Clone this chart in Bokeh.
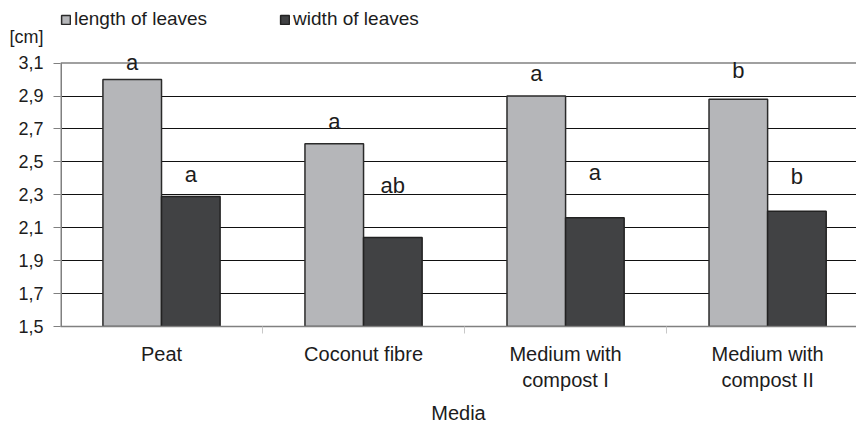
from bokeh.plotting import figure
from bokeh.models import (Range1d, FixedTicker, Span, LabelSet, Legend,
                          LegendItem, ColumnDataSource)
from bokeh.core.properties import value
from bokeh.embed import file_html
from bokeh.resources import INLINE

# ---- data ----
categories = ["Peat", "Coconut fibre", "Medium with\ncompost I", "Medium with\ncompost II"]
length_of_leaves = [3.00, 2.61, 2.90, 2.88]
width_of_leaves = [2.29, 2.04, 2.16, 2.20]
length_letters = ["a", "a", "a", "b"]
width_letters = ["a", "ab", "a", "b"]
length_letter_y = [3.058, 2.70, 2.99, 3.009]
width_letter_y = [2.375, 2.309, 2.387, 2.363]
y_ticks = [1.5, 1.7, 1.9, 2.1, 2.3, 2.5, 2.7, 2.9, 3.1]
y_tick_labels = ["1,5", "1,7", "1,9", "2,1", "2,3", "2,5", "2,7", "2,9", "3,1"]
unit_label = "[cm]"
unit_level = 3.257

FONT = "Liberation Sans"
TXT = "#1c1c1c"
LIGHT = "#b5b6b9"
DARK = "#414244"
GREY = "#808080"

centers = [i + 0.5 for i in range(len(categories))]
off = 0.145
bw = 0.29

p = figure(width=856, height=426, output_backend="svg", toolbar_location=None,
           x_range=Range1d(0, 3.94), y_range=Range1d(1.5, 3.4804),
           min_border_left=60, min_border_right=0, min_border_top=0,
           min_border_bottom=98)
p.outline_line_color = None
p.background_fill_color = "white"
p.border_fill_color = "white"

# grid
p.xgrid.grid_line_color = None
p.ygrid.ticker = FixedTicker(ticks=y_ticks[1:-1])
p.ygrid.grid_line_color = "#111111"
p.ygrid.grid_line_width = 1
p.add_layout(Span(location=y_ticks[-1], dimension="width", line_color=GREY, line_width=1.5))
# y axis line (only over the value range)
p.segment(x0=[0], y0=[y_ticks[0]], x1=[0], y1=[y_ticks[-1]], line_color=GREY, line_width=3)

src_l = ColumnDataSource(dict(x=[c - off for c in centers], top=length_of_leaves,
                              ly=length_letter_y, txt=length_letters))
src_w = ColumnDataSource(dict(x=[c + off for c in centers], top=width_of_leaves,
                              ly=width_letter_y, txt=width_letters))

r1 = p.vbar(x="x", top="top", bottom=1.5, width=bw, source=src_l,
            fill_color=LIGHT, line_color="#2a2a2a", line_width=1.5)
r2 = p.vbar(x="x", top="top", bottom=1.5, width=bw, source=src_w,
            fill_color=DARK, line_color="#222222", line_width=1.5)

for src in (src_l, src_w):
    p.add_layout(LabelSet(x="x", y="ly", text="txt", source=src, text_align="center",
                          text_baseline="alphabetic", text_font=value(FONT),
                          text_font_size="22px", text_color=TXT))

# y axis: numeric ticks as minor tick marks, labels on majors (+ unit label)
p.yaxis.ticker = FixedTicker(ticks=y_ticks + [unit_level], minor_ticks=y_ticks)
overrides = {t: l for t, l in zip(y_ticks, y_tick_labels)}
overrides[unit_level] = unit_label
p.yaxis.major_label_overrides = overrides
p.yaxis.major_label_text_font = FONT
p.yaxis.major_label_text_font_size = "18px"
p.yaxis.major_label_text_color = TXT
p.yaxis.axis_line_color = None
p.yaxis.major_tick_line_color = None
p.yaxis.major_tick_out = 7
p.yaxis.major_tick_in = 0
p.yaxis.minor_tick_line_color = GREY
p.yaxis.minor_tick_out = 7
p.yaxis.minor_tick_in = 0
p.yaxis.major_label_standoff = 10

# x axis
p.xaxis.ticker = FixedTicker(ticks=centers, minor_ticks=[1, 2, 3])
p.xaxis.major_label_overrides = {c: l for c, l in zip(centers, categories)}
p.xaxis.major_label_text_font = FONT
p.xaxis.major_label_text_font_size = "20px"
p.xaxis.major_label_text_color = TXT
p.xaxis.major_tick_line_color = None
p.xaxis.minor_tick_line_color = "#c8c8c8"
p.xaxis.minor_tick_out = 7
p.xaxis.minor_tick_in = 0
p.xaxis.axis_line_color = GREY
p.xaxis.axis_line_width = 1.5
p.xaxis.major_label_standoff = 9
p.xaxis.axis_label = "Media"
p.xaxis.axis_label_text_font = FONT
p.xaxis.axis_label_text_font_size = "20px"
p.xaxis.axis_label_text_font_style = "normal"
p.xaxis.axis_label_text_color = TXT
p.xaxis.axis_label_standoff = 8

legend = Legend(items=[LegendItem(label="length of leaves", renderers=[r1]),
                       LegendItem(label="width of leaves", renderers=[r2])],
                orientation="horizontal", location=(0, 296),
                label_text_font=FONT, label_text_font_size="19px", label_text_color=TXT,
                glyph_width=11, glyph_height=11, label_standoff=3, spacing=72,
                padding=0, margin=0, border_line_color=None, background_fill_alpha=0)
p.add_layout(legend, "center")

open("out.html", "w").write(file_html(p, INLINE))
